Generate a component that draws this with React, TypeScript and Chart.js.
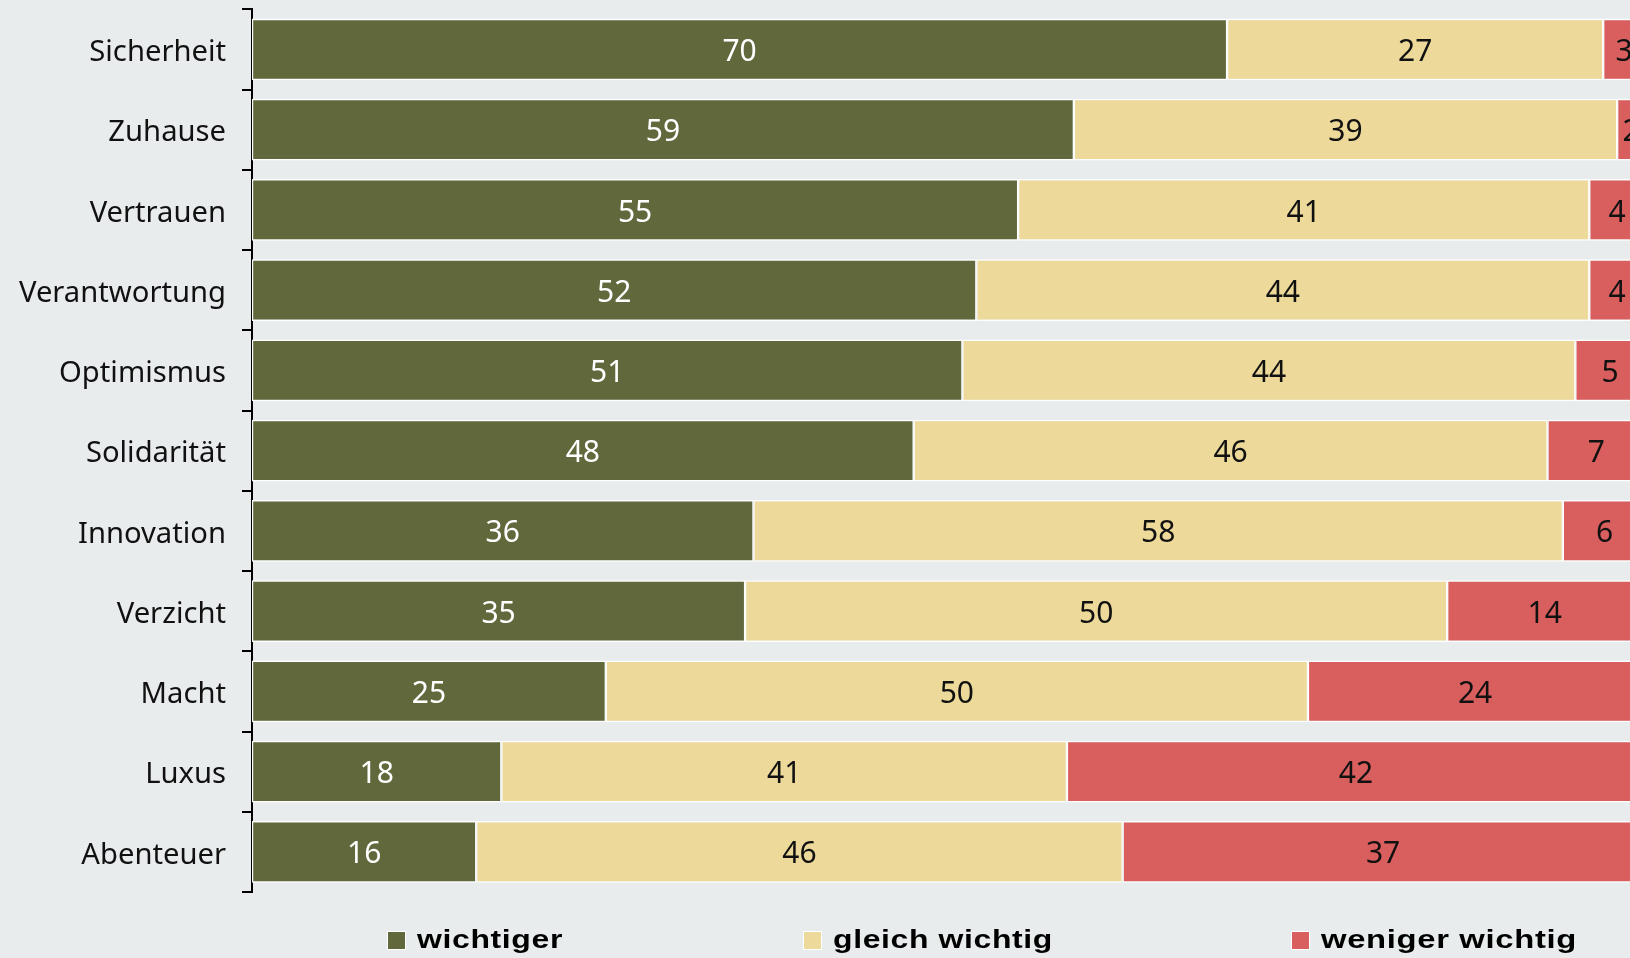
import React, { useEffect, useRef } from "react";
import { Chart, registerables } from "chart.js";

Chart.register(...registerables);

const categories = [
  "Sicherheit",
  "Zuhause",
  "Vertrauen",
  "Verantwortung",
  "Optimismus",
  "Solidarität",
  "Innovation",
  "Verzicht",
  "Macht",
  "Luxus",
  "Abenteuer",
];
const wichtiger = [70, 59, 55, 52, 51, 47.5, 36, 35.4, 25.4, 17.9, 16.1];
const gleichWichtig = [27, 39, 41, 44, 44, 45.5, 58.1, 50.4, 50.4, 40.6, 46.4];
const wenigerWichtig = [3, 2, 4, 4, 5, 7, 6, 14, 24, 41.5, 37.4];
const seriesNames = ["wichtiger", "gleich wichtig", "weniger wichtig"];
const seriesColors = ["#61683C", "#EDD999", "#D95E5E"];
const labelColors = ["#FFFFFF", "#111111", "#111111"];
const legendWidths = [146, 220, 256];
const BG = "#E9ECED";

const textPlugin = {
  id: "textPlugin",
  afterDatasetsDraw(chart: any) {
    const ctx = chart.ctx;
    const area = chart.chartArea;
    ctx.save();
    ctx.beginPath();
    ctx.rect(area.left, area.top, area.right - area.left, area.bottom - area.top);
    ctx.clip();
    ctx.font = "30px 'Noto Sans'";
    ctx.textAlign = "center";
    ctx.textBaseline = "alphabetic";
    chart.data.datasets.forEach((ds: any, di: number) => {
      const meta = chart.getDatasetMeta(di);
      meta.data.forEach((el: any, i: number) => {
        const v = ds.data[i];
        const cx = (el.x + el.base) / 2;
        ctx.fillStyle = labelColors[di];
        ctx.fillText(String(Math.round(v)), cx, el.y + 11.6);
      });
    });
    ctx.restore();
    const y = chart.scales.y;
    ctx.save();
    ctx.font = "29.2px 'Noto Sans'";
    ctx.textAlign = "right";
    ctx.textBaseline = "alphabetic";
    ctx.fillStyle = "#111";
    chart.data.labels.forEach((lab: string, i: number) => {
      ctx.fillText(lab, y.right - 26, y.getPixelForTick(i) + 11.7);
    });
    ctx.restore();
  },
};

export default function App() {
  const ref = useRef<HTMLCanvasElement>(null);
  const legendRefs = useRef<(HTMLSpanElement | null)[]>([]);
  useEffect(() => {
    if (!ref.current) return;
    const data = [wichtiger, gleichWichtig, wenigerWichtig];
    const chart = new Chart(ref.current, {
      type: "bar",
      data: {
        labels: categories,
        datasets: data.map((d, i) => ({
          label: seriesNames[i],
          data: d,
          backgroundColor: seriesColors[i],
          borderColor: "#FFFFFF",
          borderWidth: { top: 1.6, bottom: 1.6, left: 1.2, right: 1.2 },
          borderSkipped: false,
          barPercentage: 0.77,
          categoryPercentage: 1,
        })),
      },
      options: {
        indexAxis: "y",
        responsive: false,
        animation: false,
        layout: { padding: { top: 9.3, bottom: 66, left: 0, right: 0 } },
        plugins: { legend: { display: false }, tooltip: { enabled: false } },
        scales: {
          x: { stacked: true, min: 0, max: 100, display: false },
          y: {
            stacked: true,
            afterFit(scale: any) {
              scale.width = 252;
              scale.paddingTop = 0;
              scale.paddingBottom = 0;
            },
            grid: {
              drawOnChartArea: false,
              drawTicks: true,
              tickLength: 10,
              color: "#000",
              lineWidth: 2,
            },
            border: { display: true, color: "#000", width: 2 },
            ticks: { display: false },
          },
        },
      },
      plugins: [textPlugin],
    });
    legendRefs.current.forEach((el, i) => {
      if (!el) return;
      el.style.transform = "none";
      const w = el.getBoundingClientRect().width;
      if (w > 0) el.style.transform = `scaleX(${legendWidths[i] / w})`;
    });
    return () => chart.destroy();
  }, []);

  const legendItems = [
    { box: 387, text: 417 },
    { box: 803, text: 833 },
    { box: 1291, text: 1321 },
  ];

  return (
    <div
      style={{
        position: "fixed",
        left: 0,
        top: 0,
        width: 1630,
        height: 958,
        overflow: "hidden",
        background: BG,
      }}
    >
      <canvas
        ref={ref}
        width={1645}
        height={958}
        style={{ position: "absolute", left: 0, top: 0, width: 1645, height: 958 }}
      />
      {legendItems.map((it, i) => (
        <React.Fragment key={i}>
          <div
            style={{
              position: "absolute",
              left: it.box,
              top: 930.5,
              width: 19,
              height: 19,
              boxSizing: "border-box",
              border: "1.5px solid #fff",
              background: seriesColors[i],
            }}
          />
          <span
            ref={(el) => {
              legendRefs.current[i] = el;
            }}
            style={{
              position: "absolute",
              left: it.text,
              top: 926.9,
              display: "inline-block",
              whiteSpace: "nowrap",
              transformOrigin: "0 0",
              fontFamily: "'Liberation Sans', Arial, sans-serif",
              fontWeight: "bold",
              fontSize: 25,
              lineHeight: "25px",
              letterSpacing: "0.5px",
              color: "#000",
            }}
          >
            {seriesNames[i]}
          </span>
        </React.Fragment>
      ))}
    </div>
  );
}
